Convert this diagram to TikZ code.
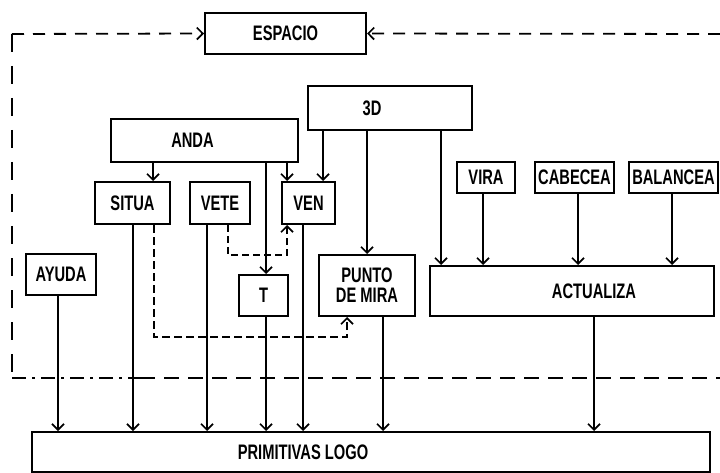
\documentclass[tikz,border=0pt]{standalone}
\usepackage{fontspec}
\setmainfont[FakeStretch=0.70]{Liberation Sans}
\usetikzlibrary{arrows.meta}
\tikzset{
  fnt/.style={font=\fontsize{21}{20}\selectfont\bfseries},
  box/.style={draw, line width=2pt, inner sep=0pt, fnt},
  lbl/.style={fnt, align=center, inner sep=0pt},
  tip/.style={-{Straight Barb[length=6pt,width=12pt,line width=1.7pt]}},
  arr/.style={line width=1.8pt, tip},
  dsh/.style={line width=1.8pt, dash pattern=on 12pt off 9pt},
}
\begin{document}
\begin{tikzpicture}[x=1pt,y=-1pt]
\useasboundingbox (0,0) rectangle (720,473);
% boxes
\node[box, minimum width=161, minimum height=41] (esp) at (285.5,33.5) {ESPACIO};
\node[box, minimum width=164, minimum height=44] (td) at (390,108) {};
\node[lbl] (tdl) at ([xshift=-18]td.center) {3D};
\node[box, minimum width=187, minimum height=43] (anda) at (204.5,140.5) {};
\node[lbl] (andal) at ([xshift=-12]anda.center) {ANDA};
\node[box, minimum width=75, minimum height=42] (situa) at (132.5,203) {SITUA};
\node[box, minimum width=60, minimum height=42] (vete) at (220,203) {VETE};
\node[box, minimum width=53, minimum height=42] (ven) at (308.5,203) {VEN};
\node[box, minimum width=70, minimum height=41] (ayuda) at (61,274.5) {AYUDA};
\node[box, minimum width=49, minimum height=41] (t) at (263.5,295.5) {T};
\node[box, minimum width=96, minimum height=61, align=center] (punto) at (367,285.5) {PUNTO\\DE MIRA};
\node[box, minimum width=284, minimum height=50] (act) at (572,291) {};
\node[lbl] (actl) at ([xshift=22]act.center) {ACTUALIZA};
\node[box, minimum width=58, minimum height=31] (vira) at (486,177.5) {VIRA};
\node[box, minimum width=79, minimum height=31] (cab) at (574.5,177.5) {CABECEA};
\node[box, minimum width=89, minimum height=31] (bal) at (673.5,177.5) {BALANCEA};
\node[box, minimum width=678, minimum height=40] (prim) at (371,452) {};
\node[lbl] (priml) at ([xshift=-68]prim.center) {PRIMITIVAS LOGO};
% dashed frame
\coordinate (c1) at (12,34);
\coordinate (c2) at (12,378);
\coordinate (c3) at (140,378);
\coordinate (c4) at (720,378);
\coordinate (c5) at (720,34);
\draw[dsh, tip] (c1) -- (esp.west);
\draw[dsh, tip] (c5) -- (esp.east);
\draw[line width=1.8pt, dash pattern=on 18pt off 14pt] (c1) -- (c2);
\draw[line width=1.8pt, dash pattern=on 14pt off 6pt on 3pt off 6pt] (c2) -- (c3);
\draw[line width=1.8pt, dash pattern=on 15pt off 9pt] (c3) -- (c4);
% arrows
\draw[arr] (153,0 |- anda.south) -- (153,0 |- situa.north);
\draw[arr] (287,0 |- anda.south) -- (287,0 |- ven.north);
\draw[arr] (266,0 |- anda.south) -- (266,0 |- t.north);
\draw[arr] (323,0 |- td.south) -- (323,0 |- ven.north);
\draw[arr] (367,0 |- td.south) -- (367,0 |- punto.north);
\draw[arr] (441,0 |- td.south) -- (441,0 |- act.north);
\draw[arr] (483,0 |- vira.south) -- (483,0 |- act.north);
\draw[arr] (578,0 |- cab.south) -- (578,0 |- act.north);
\draw[arr] (672,0 |- bal.south) -- (672,0 |- act.north);
\draw[arr, dash pattern=on 7pt off 4pt] (228,0 |- vete.south) -- (228,255) -- (287,255) -- (287,0 |- ven.south);
\draw[arr, dash pattern=on 8pt off 4pt] (154,0 |- situa.south) -- (154,337) -- (347,337) -- (347,0 |- punto.south);
\draw[arr] (58,0 |- ayuda.south) -- (58,0 |- prim.north);
\draw[arr] (133,0 |- situa.south) -- (133,0 |- prim.north);
\draw[arr] (207,0 |- vete.south) -- (207,0 |- prim.north);
\draw[arr] (266,0 |- t.south) -- (266,0 |- prim.north);
\draw[arr] (303,0 |- ven.south) -- (303,0 |- prim.north);
\draw[arr] (383,0 |- punto.south) -- (383,0 |- prim.north);
\draw[arr] (594,0 |- act.south) -- (594,0 |- prim.north);
\end{tikzpicture}
\end{document}
